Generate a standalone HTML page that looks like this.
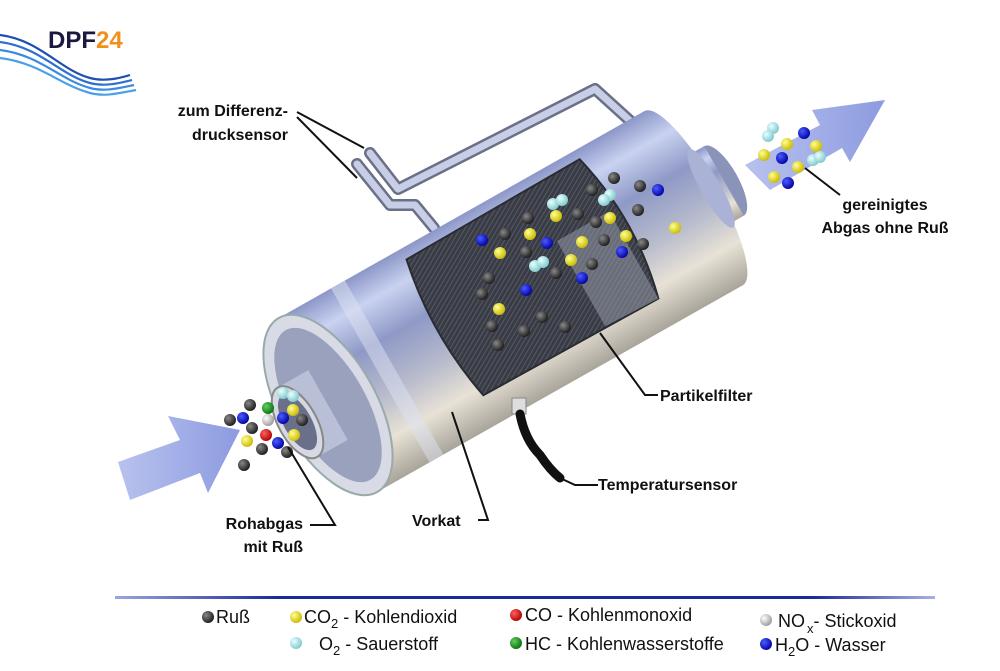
<!DOCTYPE html>
<html><head><meta charset="utf-8"><style>
html,body{margin:0;padding:0;background:#fff}
svg{display:block}
text{font-family:"Liberation Sans",sans-serif}
.l{font-weight:bold;font-size:16px;fill:#111}
.g{font-size:18px;fill:#111}
</style></head><body>
<svg width="1000" height="671" viewBox="0 0 1000 671" xmlns="http://www.w3.org/2000/svg">
<defs>
<linearGradient id="body" x1="0" y1="0" x2="0" y2="1">
<stop offset="0" stop-color="#8c97c8"/><stop offset="0.15" stop-color="#c9d2f0"/><stop offset="0.35" stop-color="#8f99c6"/><stop offset="0.6" stop-color="#b8bccc"/><stop offset="0.8" stop-color="#e8e2d6"/><stop offset="1" stop-color="#a9a49a"/>
</linearGradient>
<linearGradient id="arr" x1="0" y1="0" x2="1" y2="0"><stop offset="0" stop-color="#b8c2ee"/><stop offset="1" stop-color="#8d9be0"/></linearGradient>
<linearGradient id="hr" x1="0" y1="0" x2="1" y2="0"><stop offset="0" stop-color="#9aa6dd"/><stop offset="0.2" stop-color="#1a2a9a"/><stop offset="0.85" stop-color="#1a2a9a"/><stop offset="1" stop-color="#aab0e0"/></linearGradient>
<radialGradient id="bk" cx="0.35" cy="0.35" r="0.7"><stop offset="0" stop-color="#888"/><stop offset="1" stop-color="#1a1a1a"/></radialGradient>
<radialGradient id="ye" cx="0.35" cy="0.35" r="0.7"><stop offset="0" stop-color="#ffff90"/><stop offset="1" stop-color="#c9b800"/></radialGradient>
<radialGradient id="bl" cx="0.35" cy="0.35" r="0.7"><stop offset="0" stop-color="#4a5cff"/><stop offset="1" stop-color="#0000a0"/></radialGradient>
<radialGradient id="cy" cx="0.35" cy="0.35" r="0.7"><stop offset="0" stop-color="#e8ffff"/><stop offset="1" stop-color="#7cc8cc"/></radialGradient>
<radialGradient id="rd" cx="0.35" cy="0.35" r="0.7"><stop offset="0" stop-color="#ff6060"/><stop offset="1" stop-color="#b00000"/></radialGradient>
<radialGradient id="gr" cx="0.35" cy="0.35" r="0.7"><stop offset="0" stop-color="#60d060"/><stop offset="1" stop-color="#087008"/></radialGradient>
<radialGradient id="wh" cx="0.35" cy="0.35" r="0.7"><stop offset="0" stop-color="#fff"/><stop offset="1" stop-color="#999"/></radialGradient>
<pattern id="hatch" width="4" height="4" patternUnits="userSpaceOnUse" patternTransform="rotate(-30)"><rect width="4" height="4" fill="#3a3c44"/><rect width="4" height="1" fill="#55586a"/></pattern>
</defs>

<!-- logo -->
<g fill="none" stroke-width="2.2">
<path d="M0 35 C40 40 60 70 90 78 C105 82 120 78 130 75" stroke="#1e4fb0"/>
<path d="M0 42 C40 47 60 75 90 83 C105 87 120 83 132 80" stroke="#2f6fd0"/>
<path d="M0 50 C40 55 60 80 90 88 C105 92 120 88 134 85" stroke="#3a8ae0"/>
<path d="M0 58 C40 63 60 85 90 93 C105 97 120 93 136 90" stroke="#4aa0e8"/>
</g>
<text x="48" y="48" font-size="24" font-weight="bold" fill="#1a1a40">DPF</text>
<text x="96" y="48" font-size="24" font-weight="bold" fill="#f0901a">24</text>

<!-- right arrow -->
<polygon points="745,165 820,125 812,110 885,100 850,162 842,148 770,190" fill="url(#arr)"/>

<!-- pipe -->
<g fill="none" stroke-linecap="round" stroke-linejoin="round">
<path d="M370 153 L398 189 L595 89 L638 128 L640 145" stroke="#6a7088" stroke-width="12"/>
<path d="M370 153 L398 189 L595 89 L638 128 L640 145" stroke="#c8cee6" stroke-width="7"/>
<path d="M357 164 L390 205 L415 205 L434 228" stroke="#6a7088" stroke-width="12"/>
<path d="M357 164 L390 205 L415 205 L434 228" stroke="#c8cee6" stroke-width="7"/>
</g>

<!-- body -->
<g transform="translate(328,405) rotate(-29.5)">
<ellipse cx="455" cy="0" rx="14" ry="40" fill="#8a93b8"/>
<rect x="420" y="-40" width="35" height="80" fill="url(#body)"/>
<rect x="0" y="-100" width="420" height="200" fill="url(#body)"/>
<ellipse cx="420" cy="0" rx="25" ry="100" fill="url(#body)"/>
<ellipse cx="440" cy="0" rx="10" ry="45" fill="#aab2d6"/>
<rect x="60" y="-100" width="16" height="200" fill="#dde2f2" opacity="0.5"/>
<ellipse cx="0" cy="0" rx="48" ry="100" fill="#d8dbe6" stroke="#9aa" stroke-width="2"/>
<ellipse cx="0" cy="0" rx="38" ry="86" fill="#9aa1bd"/>
<rect x="-35" y="-40" width="35" height="80" fill="#b9bfd6"/>
<ellipse cx="-35" cy="0" rx="19" ry="40" fill="#d6d9e3" stroke="#888" stroke-width="2"/>
<ellipse cx="-35" cy="0" rx="14" ry="31" fill="#6a708a"/>
<path d="M140 -88 L340 -90 Q360 -10 340 70 L140 68 Q124 -10 140 -88 Z" fill="url(#hatch)" stroke="#2a2c33" stroke-width="2"/>
<path d="M280 -30 L340 -30 L340 70 L280 68 Z" fill="#9a9fae" opacity="0.5"/>
</g>

<!-- temp sensor -->
<rect x="512" y="398" width="14" height="16" fill="#ddd" stroke="#888"/>
<path d="M520 414 Q525 440 540 455 Q550 470 560 478" stroke="#111" stroke-width="9" fill="none" stroke-linecap="round"/>

<!-- left arrow -->
<polygon points="118,462 180,440 168,416 240,430 208,493 200,473 130,500" fill="url(#arr)"/>

<!-- balls -->
<g>
<circle cx="592" cy="190" r="6" fill="url(#bk)"/><circle cx="614" cy="178" r="6" fill="url(#bk)"/><circle cx="640" cy="186" r="6" fill="url(#bk)"/><circle cx="658" cy="190" r="6" fill="url(#bl)"/>
<circle cx="638" cy="210" r="6" fill="url(#bk)"/><circle cx="610" cy="195" r="6" fill="url(#cy)"/><circle cx="604" cy="200" r="6" fill="url(#cy)"/>
<circle cx="553" cy="204" r="6" fill="url(#cy)"/><circle cx="562" cy="200" r="6" fill="url(#cy)"/><circle cx="556" cy="216" r="6" fill="url(#ye)"/>
<circle cx="528" cy="218" r="6" fill="url(#bk)"/><circle cx="578" cy="214" r="6" fill="url(#bk)"/><circle cx="596" cy="222" r="6" fill="url(#bk)"/><circle cx="610" cy="218" r="6" fill="url(#ye)"/>
<circle cx="675" cy="228" r="6" fill="url(#ye)"/><circle cx="482" cy="240" r="6" fill="url(#bl)"/><circle cx="505" cy="234" r="6" fill="url(#bk)"/><circle cx="530" cy="234" r="6" fill="url(#ye)"/>
<circle cx="547" cy="243" r="6" fill="url(#bl)"/><circle cx="582" cy="242" r="6" fill="url(#ye)"/><circle cx="604" cy="240" r="6" fill="url(#bk)"/><circle cx="626" cy="236" r="6" fill="url(#ye)"/>
<circle cx="643" cy="244" r="6" fill="url(#bk)"/><circle cx="500" cy="253" r="6" fill="url(#ye)"/><circle cx="526" cy="252" r="6" fill="url(#bk)"/>
<circle cx="535" cy="266" r="6" fill="url(#cy)"/><circle cx="543" cy="262" r="6" fill="url(#cy)"/><circle cx="571" cy="260" r="6" fill="url(#ye)"/><circle cx="592" cy="264" r="6" fill="url(#bk)"/><circle cx="622" cy="252" r="6" fill="url(#bl)"/>
<circle cx="489" cy="278" r="6" fill="url(#bk)"/><circle cx="556" cy="273" r="6" fill="url(#bk)"/><circle cx="582" cy="278" r="6" fill="url(#bl)"/>
<circle cx="482" cy="294" r="6" fill="url(#bk)"/><circle cx="526" cy="290" r="6" fill="url(#bl)"/><circle cx="499" cy="309" r="6" fill="url(#ye)"/>
<circle cx="492" cy="326" r="6" fill="url(#bk)"/><circle cx="542" cy="317" r="6" fill="url(#bk)"/><circle cx="524" cy="331" r="6" fill="url(#bk)"/><circle cx="565" cy="327" r="6" fill="url(#bk)"/><circle cx="498" cy="345" r="6" fill="url(#bk)"/>
<!-- inlet -->
<circle cx="283" cy="393" r="6" fill="url(#cy)"/><circle cx="293" cy="396" r="6" fill="url(#cy)"/><circle cx="293" cy="410" r="6" fill="url(#ye)"/>
<circle cx="250" cy="405" r="6" fill="url(#bk)"/><circle cx="268" cy="408" r="6" fill="url(#gr)"/><circle cx="230" cy="420" r="6" fill="url(#bk)"/><circle cx="243" cy="418" r="6" fill="url(#bl)"/>
<circle cx="268" cy="420" r="6" fill="url(#wh)"/><circle cx="283" cy="418" r="6" fill="url(#bl)"/><circle cx="302" cy="420" r="6" fill="url(#bk)"/><circle cx="252" cy="428" r="6" fill="url(#bk)"/>
<circle cx="266" cy="435" r="6" fill="url(#rd)"/><circle cx="294" cy="435" r="6" fill="url(#ye)"/><circle cx="247" cy="441" r="6" fill="url(#ye)"/><circle cx="262" cy="449" r="6" fill="url(#bk)"/>
<circle cx="278" cy="443" r="6" fill="url(#bl)"/><circle cx="287" cy="452" r="6" fill="url(#bk)"/><circle cx="244" cy="465" r="6" fill="url(#bk)"/>
<!-- outlet -->
<circle cx="773" cy="128" r="6" fill="url(#cy)"/><circle cx="768" cy="136" r="6" fill="url(#cy)"/><circle cx="804" cy="133" r="6" fill="url(#bl)"/><circle cx="787" cy="144" r="6" fill="url(#ye)"/>
<circle cx="764" cy="155" r="6" fill="url(#ye)"/><circle cx="782" cy="158" r="6" fill="url(#bl)"/><circle cx="816" cy="146" r="6" fill="url(#ye)"/><circle cx="813" cy="160" r="6" fill="url(#cy)"/><circle cx="820" cy="157" r="6" fill="url(#cy)"/>
<circle cx="798" cy="167" r="6" fill="url(#ye)"/><circle cx="774" cy="177" r="6" fill="url(#ye)"/><circle cx="788" cy="183" r="6" fill="url(#bl)"/>
</g>

<!-- leaders -->
<g stroke="#111" stroke-width="2" fill="none">
<path d="M297 112 L364 148"/><path d="M297 117 L357 178"/>
<path d="M805 168 L840 195"/>
<path d="M600 333 L645 395 L658 395"/>
<path d="M560 478 L575 485 L598 485"/>
<path d="M452 412 L488 520 L478 520"/>
<path d="M288 447 L335 525 L310 525"/>
</g>

<!-- labels -->
<text class="l" x="288" y="116" text-anchor="end">zum Differenz-</text>
<text class="l" x="288" y="140" text-anchor="end">drucksensor</text>
<text class="l" x="885" y="210" text-anchor="middle">gereinigtes</text>
<text class="l" x="885" y="233" text-anchor="middle">Abgas ohne Ruß</text>
<text class="l" x="660" y="401">Partikelfilter</text>
<text class="l" x="598" y="490">Temperatursensor</text>
<text class="l" x="412" y="526">Vorkat</text>
<text class="l" x="303" y="529" text-anchor="end">Rohabgas</text>
<text class="l" x="303" y="552" text-anchor="end">mit Ruß</text>

<!-- legend -->
<rect x="115" y="596" width="820" height="3" fill="url(#hr)"/>
<g>
<circle cx="208" cy="617" r="6" fill="url(#bk)"/><text class="g" x="216" y="623">Ruß</text>
<circle cx="296" cy="617" r="6" fill="url(#ye)"/><text class="g" x="304" y="623">CO<tspan font-size="13" dy="5">2</tspan><tspan dy="-5"> - Kohlendioxid</tspan></text>
<circle cx="516" cy="615" r="6" fill="url(#rd)"/><text class="g" x="525" y="621">CO - Kohlenmonoxid</text>
<circle cx="766" cy="620" r="6" fill="url(#wh)"/><text class="g" x="778" y="627">NO<tspan font-size="13" dx="2" dy="6">x</tspan><tspan dy="-6">- Stickoxid</tspan></text>
<circle cx="296" cy="643" r="6" fill="url(#cy)"/><text class="g" x="319" y="650">O<tspan font-size="13" dy="5">2</tspan><tspan dy="-5"> - Sauerstoff</tspan></text>
<circle cx="516" cy="643" r="6" fill="url(#gr)"/><text class="g" x="525" y="650">HC - Kohlenwasserstoffe</text>
<circle cx="766" cy="644" r="6" fill="url(#bl)"/><text class="g" x="775" y="651">H<tspan font-size="13" dy="5">2</tspan><tspan dy="-5">O - Wasser</tspan></text>
</g>
</svg>
</body></html>
